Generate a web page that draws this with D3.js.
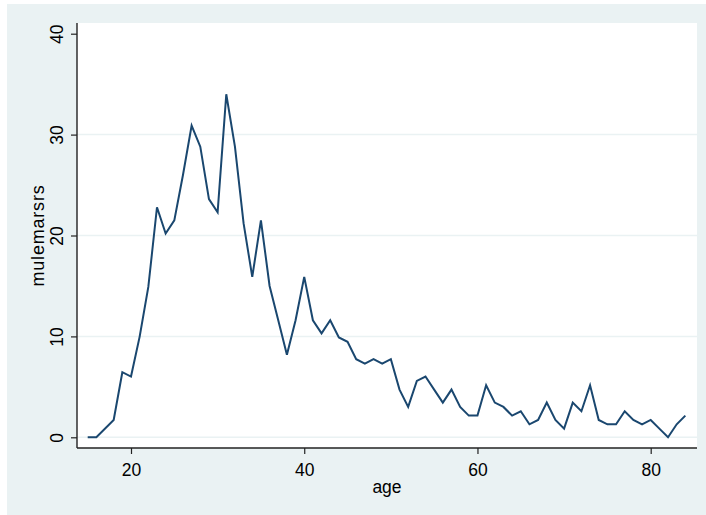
<!DOCTYPE html>
<html>
<head>
<meta charset="utf-8">
<script src="https://cdn.jsdelivr.net/npm/d3@7"></script>
<style>
  html, body { margin: 0; padding: 0; background: #ffffff; }
  svg { display: block; }
  text { font-family: "Liberation Sans", Arial, Helvetica, sans-serif; fill: #000; }
</style>
</head>
<body>
<svg id="chart" width="706" height="515"></svg>
<script>
const ages = [15,16,18,19,20,21,22,23,24,25,26,27,28,29,30,31,32,33,34,35,36,37,38,39,40,
  41,42,43,44,45,46,47,48,49,50,51,52,53,54,55,56,57,58,59,60,61,62,63,64,65,66,67,68,69,70,
  71,72,73,74,75,76,77,78,79,80,81,82,83,84];
const values = [0,0,1.72,6.45,6.02,9.98,14.9,22.8,20.2,21.5,26.0,30.9,28.8,23.6,22.3,34.0,28.8,21.2,15.9,21.5,15.0,11.6,8.17,11.6,15.9,
  11.6,10.3,11.6,9.9,9.46,7.74,7.31,7.74,7.31,7.74,4.73,3.01,5.59,6.02,4.73,3.44,4.73,3.01,2.15,2.15,5.16,3.44,3.01,2.15,2.58,1.29,1.72,3.44,1.72,0.86,
  3.44,2.58,5.16,1.72,1.29,1.29,2.58,1.72,1.29,1.72,0.86,0,1.29,2.15];
const xTicks = [20,40,60,80];
const yTicks = [0,10,20,30,40];
const yGrid = [0,10,20,30];
const xTitle = "age";
const yTitle = "mulemarsrs";

const svg = d3.select("#chart");
const bg = "#eaf2f3";

// outer graph region
svg.append("rect").attr("x",7).attr("y",4).attr("width",699).attr("height",511).attr("fill",bg);
// plot region
const pL = 77, pR = 697, pT = 23, pB = 448;
svg.append("rect").attr("x",pL).attr("y",pT).attr("width",pR-pL).attr("height",pB-pT).attr("fill","#ffffff");

const x = d3.scaleLinear().domain([20,80]).range([131,650.7]);
const y = d3.scaleLinear().domain([0,40]).range([437.3,33.7]);

// gridlines
svg.append("g").selectAll("line").data(yGrid).join("line")
  .attr("x1",pL).attr("x2",pR)
  .attr("y1",d=>y(d)).attr("y2",d=>y(d))
  .attr("stroke",bg).attr("stroke-width",1.5);

// line
const line = d3.line().x((d,i)=>x(ages[i])).y(d=>y(d));
svg.append("path").datum(values).attr("d",line)
  .attr("fill","none").attr("stroke","#1a476f").attr("stroke-width",2)
  .attr("stroke-linejoin","miter");

// y axis
const yAxis = d3.axisLeft(y).tickValues(yTicks).tickSize(6).tickPadding(0).tickFormat(d3.format("d"));
const gy = svg.append("g").attr("transform",`translate(${pL},0)`).call(yAxis);
gy.select(".domain").attr("d",`M0,${pT}V${pB}`).attr("stroke","#222").attr("stroke-width",1.4);
gy.selectAll(".tick line").attr("stroke","#222").attr("stroke-width",1.2);
gy.selectAll(".tick text")
  .attr("x",0).attr("y",0).attr("dy",null)
  .attr("transform","translate(-14,0) rotate(-90)")
  .attr("text-anchor","middle")
  .style("font-size","17.5px").style("font-family","Liberation Sans, Arial, sans-serif").attr("fill","#000");

// x axis
const xAxis = d3.axisBottom(x).tickValues(xTicks).tickSize(6).tickPadding(0).tickFormat(d3.format("d"));
const gx = svg.append("g").attr("transform",`translate(0,${pB})`).call(xAxis);
gx.select(".domain").attr("d",`M${pL},0H${pR}`).attr("stroke","#222").attr("stroke-width",1.4);
gx.selectAll(".tick line").attr("stroke","#222").attr("stroke-width",1.2);
gx.selectAll(".tick text")
  .attr("y",28).attr("dy",null)
  .style("font-size","17.5px").style("font-family","Liberation Sans, Arial, sans-serif").attr("fill","#000");

// titles
svg.append("text").attr("x",(pL+pR)/2).attr("y",493).attr("text-anchor","middle")
  .style("font-size","17.5px").text(xTitle);
svg.append("text").attr("transform",`translate(44,${(pT+pB)/2}) rotate(-90)`).attr("text-anchor","middle")
  .style("font-size","18px").style("letter-spacing","0.8px").text(yTitle);
</script>
</body>
</html>
